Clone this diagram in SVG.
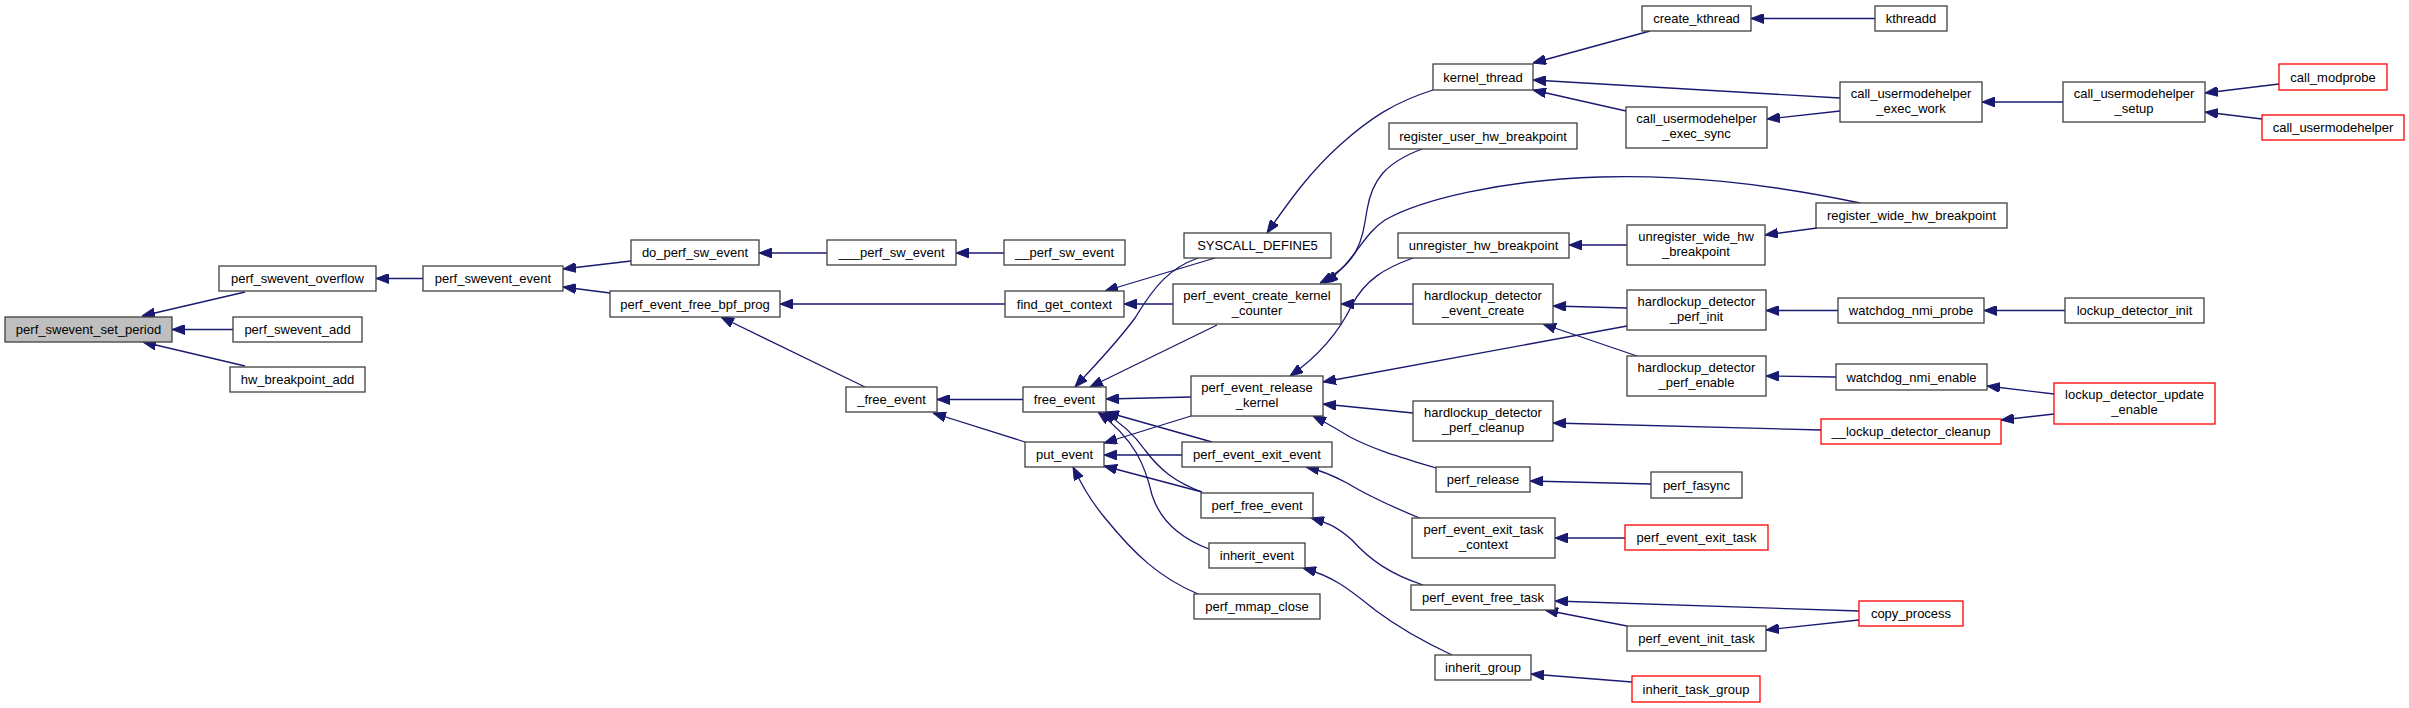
<svg xmlns="http://www.w3.org/2000/svg" width="2409" height="708" viewBox="0 0 2409 708">
<style>
.n rect{fill:#fff;stroke:#404040;stroke-width:1.3}
.n.root rect{fill:#bfbfbf}
.n.red rect{stroke:#ff0000}
.n text{font-family:"Liberation Sans",Arial,sans-serif;font-size:13px;fill:#000;text-anchor:middle}
#edges path{fill:none;stroke:#191970;stroke-width:1.3;marker-end:url(#ah)}
</style>
<defs>
<marker id="ah" viewBox="0 0 13 10" refX="13" refY="5" markerWidth="13" markerHeight="10" markerUnits="userSpaceOnUse" orient="auto">
<path d="M0,0 L13,5 L0,10 z" fill="#191970" stroke="#191970" stroke-width="1"/>
</marker>
</defs>
<rect width="2409" height="708" fill="#fff"/>
<g id="edges">
<path d="M245,292 L142,316"/>
<path d="M233,329.5 L172,329.5"/>
<path d="M245,366 L143,342"/>
<path d="M423,278.5 L376,278.5"/>
<path d="M631,261 L563,269"/>
<path d="M610,293 L563,287"/>
<path d="M827,253 L759,253"/>
<path d="M1004,253 L956,253"/>
<path d="M1005,304 L780,304"/>
<path d="M865,387 L721,317"/>
<path d="M1023,399.5 L937,399.5"/>
<path d="M1025,442 L933,413"/>
<path d="M1215,258 L1105,291"/>
<path d="M1198,258 C1170,268 1155,285 1135,318 C1115,345 1095,365 1075,387"/>
<path d="M1173,304 L1124,304"/>
<path d="M1217,325 L1090,387"/>
<path d="M1191,397 L1106,399"/>
<path d="M1191,416 L1104,443"/>
<path d="M1212,442 L1106,412"/>
<path d="M1182,455 L1104,455"/>
<path d="M1202,492 C1175,482 1160,470 1145,450 C1133,433 1120,422 1103,412"/>
<path d="M1209,549 C1180,538 1160,520 1152,495 C1145,465 1135,440 1098,412"/>
<path d="M1202,492 L1104,466"/>
<path d="M1198,594 C1160,578 1135,555 1105,518 C1090,500 1082,485 1073,467"/>
<path d="M1433,90 C1395,102 1370,118 1340,145 C1310,172 1290,200 1267,233"/>
<path d="M1422,149 C1385,163 1372,180 1367,210 C1362,240 1360,262 1320,283"/>
<path d="M1860,203 C1760,182 1680,175 1600,177 C1500,180 1420,200 1385,220 C1362,235 1355,262 1325,283"/>
<path d="M1413,304 L1341,304"/>
<path d="M1413,258 C1385,268 1365,280 1352,305 C1340,330 1320,355 1290,376"/>
<path d="M1627,326 L1323,382"/>
<path d="M1413,413 L1323,404"/>
<path d="M1436,468 C1400,457 1375,450 1350,437 C1335,428 1325,422 1313,416"/>
<path d="M1422,519 C1395,508 1370,497 1347,483 C1330,474 1320,470 1306,467"/>
<path d="M1423,585 C1390,574 1370,560 1352,540 C1335,525 1325,522 1311,518"/>
<path d="M1452,655 C1420,640 1395,625 1375,610 C1350,590 1335,577 1303,568"/>
<path d="M1650,31 L1533,63"/>
<path d="M1840,98 L1533,80"/>
<path d="M1626,111 L1533,90"/>
<path d="M1875,18.5 L1751,18.5"/>
<path d="M1840,111 L1767,119"/>
<path d="M2063,102 L1982,102"/>
<path d="M2279,84 L2205,93"/>
<path d="M2262,119 L2205,112"/>
<path d="M1627,245 L1569,245"/>
<path d="M1817,228 L1765,235"/>
<path d="M1627,308 L1553,306"/>
<path d="M1637,356 L1543,324"/>
<path d="M1838,310.5 L1766,310.5"/>
<path d="M2065,310.5 L1984,310.5"/>
<path d="M1836,377 L1766,376"/>
<path d="M2054,394 L1987,386"/>
<path d="M2054,414 L2001,420"/>
<path d="M1821,430 L1553,423"/>
<path d="M1651,484 L1530,481"/>
<path d="M1625,538 L1555,538"/>
<path d="M1859,611 L1555,601"/>
<path d="M1627,626 L1545,610"/>
<path d="M1859,620 L1766,630"/>
<path d="M1632,682 L1531,674"/>
</g>
<g id="n1" class="n root"><rect x="5" y="317" width="167" height="25"/><text x="88.5" y="334">perf_swevent_set_period</text></g>
<g id="n2" class="n"><rect x="219" y="266" width="157" height="25"/><text x="297.5" y="283">perf_swevent_overflow</text></g>
<g id="n3" class="n"><rect x="233" y="317" width="129" height="25"/><text x="297.5" y="334">perf_swevent_add</text></g>
<g id="n4" class="n"><rect x="230" y="367" width="135" height="25"/><text x="297.5" y="384">hw_breakpoint_add</text></g>
<g id="n5" class="n"><rect x="423" y="266" width="140" height="25"/><text x="493" y="283">perf_swevent_event</text></g>
<g id="n6" class="n"><rect x="631" y="240" width="128" height="25"/><text x="695" y="257">do_perf_sw_event</text></g>
<g id="n7" class="n"><rect x="610" y="291" width="170" height="26"/><text x="695" y="308.5">perf_event_free_bpf_prog</text></g>
<g id="n8" class="n"><rect x="827" y="240" width="129" height="25"/><text x="891.5" y="257">___perf_sw_event</text></g>
<g id="n9" class="n"><rect x="1004" y="240" width="121" height="25"/><text x="1064.5" y="257">__perf_sw_event</text></g>
<g id="n10" class="n"><rect x="1005" y="291" width="119" height="26"/><text x="1064.5" y="308.5">find_get_context</text></g>
<g id="n11" class="n"><rect x="846" y="387" width="91" height="25"/><text x="891.5" y="404">_free_event</text></g>
<g id="n12" class="n"><rect x="1023" y="387" width="83" height="25"/><text x="1064.5" y="404">free_event</text></g>
<g id="n13" class="n"><rect x="1025" y="442" width="79" height="25"/><text x="1064.5" y="459">put_event</text></g>
<g id="n14" class="n"><rect x="1184" y="233" width="147" height="25"/><text x="1257.5" y="250">SYSCALL_DEFINE5</text></g>
<g id="n15" class="n"><rect x="1173" y="284" width="168" height="40"/><text x="1257" y="300">perf_event_create_kernel</text><text x="1257" y="315">_counter</text></g>
<g id="n16" class="n"><rect x="1191" y="376" width="132" height="40"/><text x="1257" y="392">perf_event_release</text><text x="1257" y="407">_kernel</text></g>
<g id="n17" class="n"><rect x="1182" y="442" width="150" height="25"/><text x="1257" y="459">perf_event_exit_event</text></g>
<g id="n18" class="n"><rect x="1201" y="493" width="112" height="25"/><text x="1257" y="510">perf_free_event</text></g>
<g id="n19" class="n"><rect x="1209" y="543" width="96" height="25"/><text x="1257" y="560">inherit_event</text></g>
<g id="n20" class="n"><rect x="1194" y="594" width="126" height="25"/><text x="1257" y="611">perf_mmap_close</text></g>
<g id="n21" class="n"><rect x="1433" y="64" width="100" height="26"/><text x="1483" y="81.5">kernel_thread</text></g>
<g id="n22" class="n"><rect x="1389" y="123" width="188" height="26"/><text x="1483" y="140.5">register_user_hw_breakpoint</text></g>
<g id="n23" class="n"><rect x="1398" y="233" width="171" height="25"/><text x="1483.5" y="250">unregister_hw_breakpoint</text></g>
<g id="n24" class="n"><rect x="1413" y="284" width="140" height="40"/><text x="1483" y="300">hardlockup_detector</text><text x="1483" y="315">_event_create</text></g>
<g id="n25" class="n"><rect x="1413" y="401" width="140" height="40"/><text x="1483" y="417">hardlockup_detector</text><text x="1483" y="432">_perf_cleanup</text></g>
<g id="n26" class="n"><rect x="1436" y="467" width="94" height="25"/><text x="1483" y="484">perf_release</text></g>
<g id="n27" class="n"><rect x="1412" y="518" width="143" height="40"/><text x="1483.5" y="534">perf_event_exit_task</text><text x="1483.5" y="549">_context</text></g>
<g id="n28" class="n"><rect x="1411" y="585" width="144" height="25"/><text x="1483" y="602">perf_event_free_task</text></g>
<g id="n29" class="n"><rect x="1435" y="655" width="96" height="25"/><text x="1483" y="672">inherit_group</text></g>
<g id="n30" class="n"><rect x="1642" y="6" width="109" height="25"/><text x="1696.5" y="23">create_kthread</text></g>
<g id="n31" class="n"><rect x="1875" y="6" width="72" height="25"/><text x="1911" y="23">kthreadd</text></g>
<g id="n32" class="n"><rect x="1840" y="82" width="142" height="40"/><text x="1911" y="98">call_usermodehelper</text><text x="1911" y="113">_exec_work</text></g>
<g id="n33" class="n"><rect x="1626" y="107" width="141" height="41"/><text x="1696.5" y="123">call_usermodehelper</text><text x="1696.5" y="138">_exec_sync</text></g>
<g id="n34" class="n"><rect x="1816" y="203" width="191" height="25"/><text x="1911.5" y="220">register_wide_hw_breakpoint</text></g>
<g id="n35" class="n"><rect x="1627" y="225" width="138" height="40"/><text x="1696" y="241">unregister_wide_hw</text><text x="1696" y="256">_breakpoint</text></g>
<g id="n36" class="n"><rect x="1627" y="290" width="139" height="40"/><text x="1696.5" y="306">hardlockup_detector</text><text x="1696.5" y="321">_perf_init</text></g>
<g id="n37" class="n"><rect x="1838" y="298" width="146" height="25"/><text x="1911" y="315">watchdog_nmi_probe</text></g>
<g id="n38" class="n"><rect x="1627" y="356" width="139" height="40"/><text x="1696.5" y="372">hardlockup_detector</text><text x="1696.5" y="387">_perf_enable</text></g>
<g id="n39" class="n"><rect x="1836" y="364" width="151" height="26"/><text x="1911.5" y="381.5">watchdog_nmi_enable</text></g>
<g id="n40" class="n red"><rect x="1821" y="419" width="180" height="25"/><text x="1911" y="436">__lockup_detector_cleanup</text></g>
<g id="n41" class="n"><rect x="1651" y="472" width="91" height="26"/><text x="1696.5" y="489.5">perf_fasync</text></g>
<g id="n42" class="n red"><rect x="1625" y="525" width="143" height="25"/><text x="1696.5" y="542">perf_event_exit_task</text></g>
<g id="n43" class="n red"><rect x="1859" y="601" width="104" height="25"/><text x="1911" y="618">copy_process</text></g>
<g id="n44" class="n"><rect x="1627" y="626" width="139" height="25"/><text x="1696.5" y="643">perf_event_init_task</text></g>
<g id="n45" class="n red"><rect x="1632" y="676" width="128" height="26"/><text x="1696" y="693.5">inherit_task_group</text></g>
<g id="n46" class="n"><rect x="2063" y="82" width="142" height="40"/><text x="2134" y="98">call_usermodehelper</text><text x="2134" y="113">_setup</text></g>
<g id="n47" class="n red"><rect x="2279" y="64" width="108" height="26"/><text x="2333" y="81.5">call_modprobe</text></g>
<g id="n48" class="n red"><rect x="2262" y="115" width="142" height="25"/><text x="2333" y="132">call_usermodehelper</text></g>
<g id="n49" class="n"><rect x="2065" y="298" width="139" height="25"/><text x="2134.5" y="315">lockup_detector_init</text></g>
<g id="n50" class="n red"><rect x="2054" y="383" width="161" height="41"/><text x="2134.5" y="399">lockup_detector_update</text><text x="2134.5" y="414">_enable</text></g>
</svg>
